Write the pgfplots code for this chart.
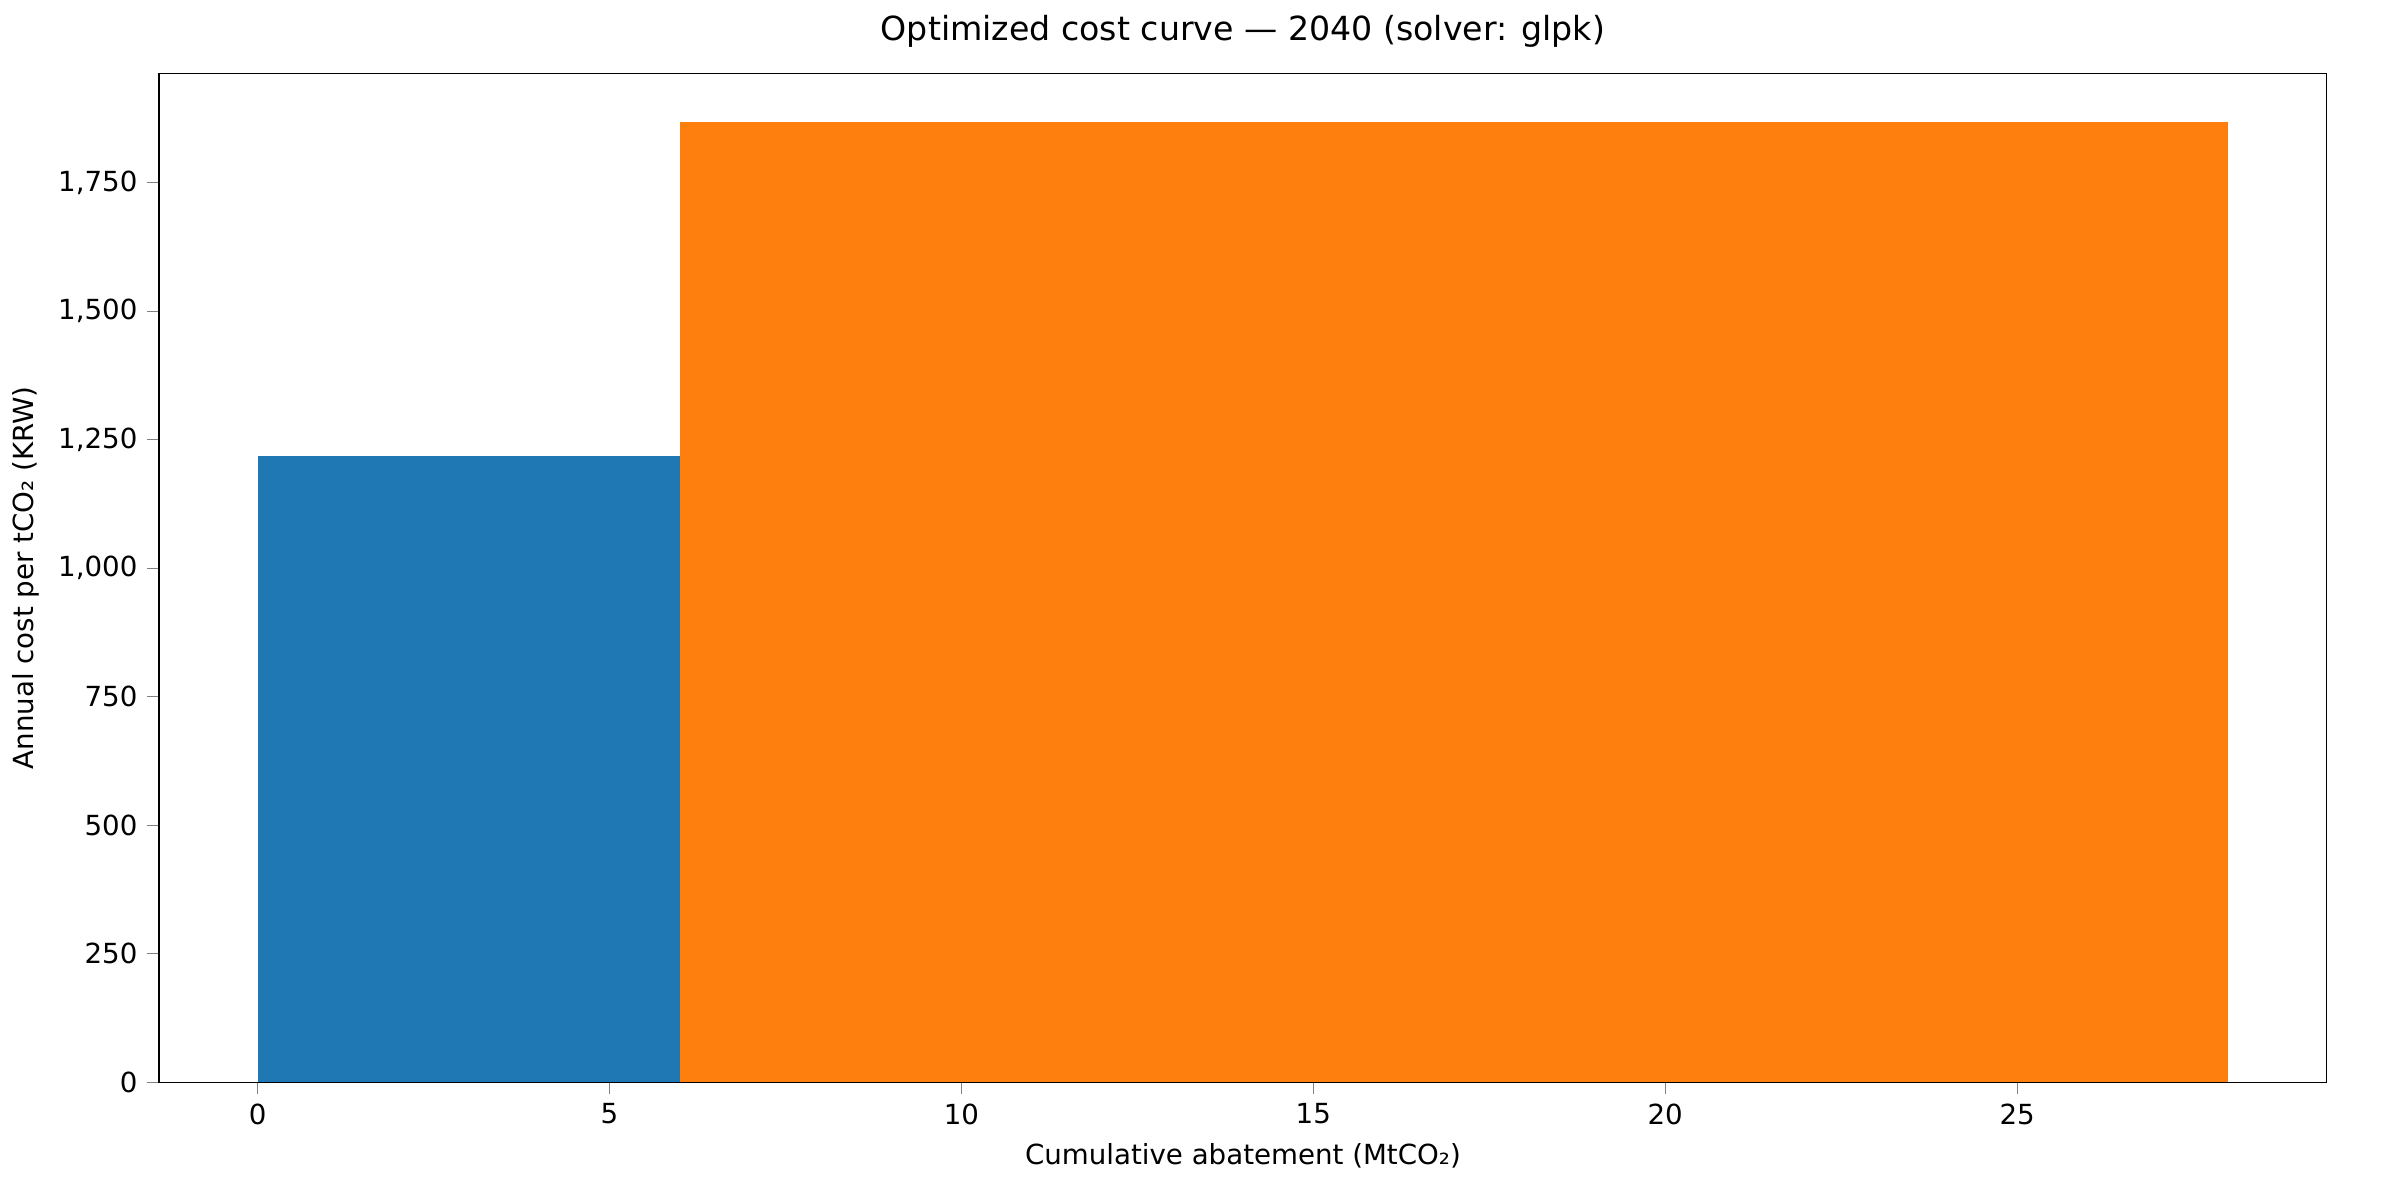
\documentclass[border=0pt]{standalone}
\usepackage{pgfplots}
\pgfplotsset{compat=1.18}
\usepackage{fontspec}
\setmainfont{DejaVu Sans}
\begin{document}
\begin{tikzpicture}
\useasboundingbox (-2.02,-1.497) rectangle (28.46,13.743);
\begin{axis}[at={(0,0)},anchor=south west,scale only axis,width=27.53cm,height=12.81cm,
 xmin=-1.4,xmax=29.4,ymin=0,ymax=1962.6,
 xtick={0,5,...,25},ytick={0,250,...,1750},
 /pgf/number format/assume math mode=true,
 tick align=outside,tick pos=left,
 title={Optimized cost curve — 2040 (solver: glpk)},
 title style={font=\fontsize{12}{14}\selectfont},
 xlabel={Cumulative abatement (MtCO₂)},
 ylabel={Annual cost per tCO₂ (KRW)},
 tick label style={font=\fontsize{10}{12}\selectfont},
 label style={font=\fontsize{10}{12}\selectfont},
 scaled y ticks=false,
 axis line style={black},
]
\addplot[fill={rgb,255:red,31;green,119;blue,180},draw=none] coordinates {(0,0)(0,1219)(6,1219)(6,0)} --cycle;
\addplot[fill={rgb,255:red,255;green,127;blue,14},draw=none] coordinates {(6,0)(6,1869)(28,1869)(28,0)} --cycle;
\end{axis}
\end{tikzpicture}
\end{document}
